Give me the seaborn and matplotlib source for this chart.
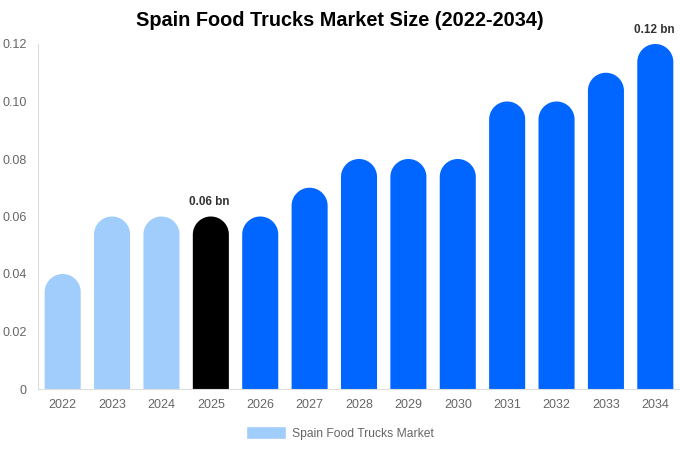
import numpy as np
import matplotlib.pyplot as plt
import seaborn as sns
import pandas as pd
from matplotlib.patches import Polygon, Patch

years = ['2022', '2023', '2024', '2025', '2026', '2027', '2028', '2029', '2030',
         '2031', '2032', '2033', '2034']
values = [0.04, 0.06, 0.06, 0.06, 0.06, 0.07, 0.08, 0.08, 0.08, 0.10, 0.10, 0.11, 0.12]
labeled = {'2025': '0.06 bn', '2034': '0.12 bn'}
yticks = [0, 0.02, 0.04, 0.06, 0.08, 0.10, 0.12]

sns.set_style('white')
plt.rcParams['font.family'] = ['Liberation Sans', 'DejaVu Sans']

def barColor(y):
    if int(y) < 2025: return '#a0cdfc'
    elif int(y) == 2025: return '#000000'
    return '#0066ff'

df = pd.DataFrame({'year': years, 'value': values})
palette = {y: barColor(y) for y in years}

fig = plt.figure(figsize=(6.8, 4.5), dpi=100)
ax = fig.add_axes([38/680, 61/450, 642/680, 345/450])
sns.barplot(data=df, x='year', y='value', hue='year', palette=palette,
            width=0.73, legend=False, ax=ax, saturation=1)
ax.set_ylim(0, 0.12)
ax.set_xlim(-0.5, len(years) - 0.5)

# swap square bars for one rounded-top shape each
pxPerY = 345 / 0.12
theta = np.linspace(0, np.pi, 60)
for patch in list(ax.patches):
    x0, w, h = patch.get_x(), patch.get_width(), patch.get_height()
    col = patch.get_facecolor()
    patch.set_visible(False)
    wPx = w * 642 / len(years)
    r = (wPx / 2) / pxPerY
    cx, cy = x0 + w / 2, h - r
    arc = np.column_stack([cx + (w / 2) * np.cos(theta), cy + r * np.sin(theta)])
    pts = np.vstack([[x0 + w, 0], arc, [x0, 0]])
    ax.add_patch(Polygon(pts, closed=True, facecolor=col, linewidth=0))

for i, y in enumerate(years):
    if y in labeled:
        ax.text(i - 0.03, values[i] + 0.0028, labeled[y], ha='center', va='bottom',
                fontsize=8.5, fontweight='bold', color='#333333')

ax.set_yticks(yticks)
ax.set_yticklabels(['0'] + ['%.2f' % t for t in yticks[1:]])
ax.tick_params(axis='both', colors='#666666', labelsize=9, length=0)
ax.tick_params(axis='x', pad=7)
ax.tick_params(axis='y', pad=8)
ax.set_xlabel('')
ax.set_ylabel('')
for s in ['top', 'right']:
    ax.spines[s].set_visible(False)
for s in ['left', 'bottom']:
    ax.spines[s].set_color('#dddddd')
    ax.spines[s].set_linewidth(0.8)

fig.suptitle('Spain Food Trucks Market Size (2022-2034)', x=0.5, y=0.975,
             fontsize=14.3, fontweight='bold', color='black')
fig.legend(handles=[Patch(facecolor='#a0cdfc', label='Spain Food Trucks Market')],
           loc='center', bbox_to_anchor=(0.5, 17/450), frameon=False,
           fontsize=8.7, labelcolor='#666666', handlelength=3.3, handleheight=1.3,
           handletextpad=0.5)

fig.savefig('out.png', dpi=100)
plt.close()
